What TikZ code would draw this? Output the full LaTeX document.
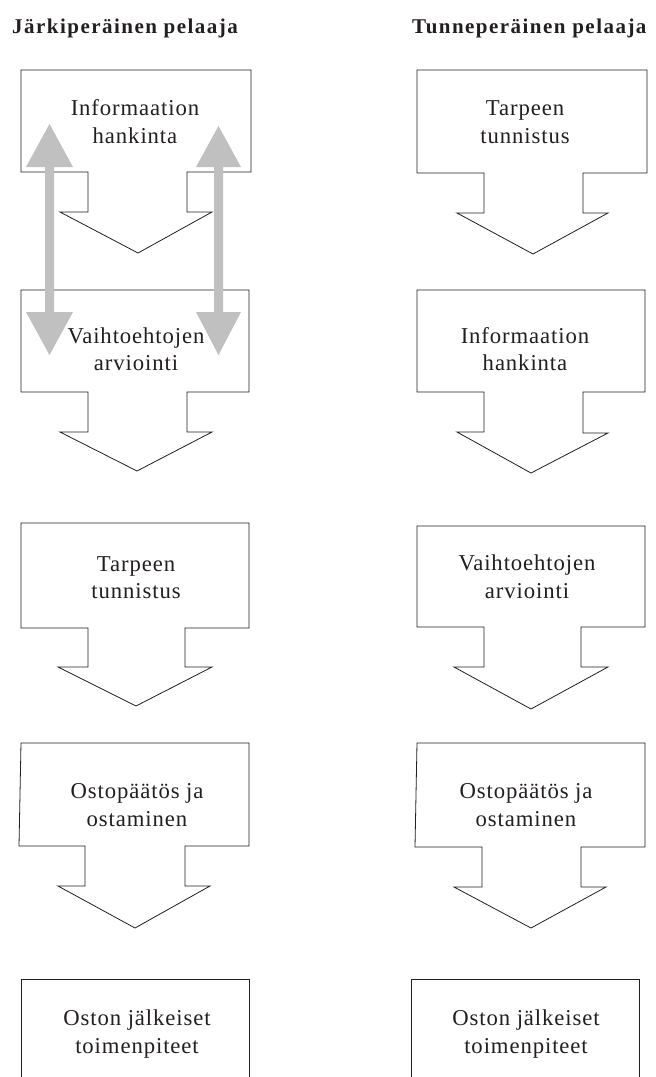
\documentclass[tikz,border=0pt]{standalone}
\usepackage{fontspec}
\newfontfamily\bodyfont[LetterSpace=4]{Liberation Serif}
\newfontfamily\titlefont[LetterSpace=7]{Liberation Serif}
\definecolor{ink}{HTML}{231F20}
\definecolor{arrowgray}{HTML}{C0C0C0}
\begin{document}
\begin{tikzpicture}[x=1pt,y=-1pt,
  blockline/.style={draw=ink,line width=0.8pt,line join=miter},
  txt/.style={anchor=base,inner sep=0pt,text=ink,font=\bodyfont\fontsize{22.7}{28}\selectfont},
  ttl/.style={anchor=base west,inner sep=0pt,text=ink,font=\titlefont\bfseries\fontsize{21}{24}\selectfont},
  grayarrow/.style={fill=arrowgray,draw=none}]
\useasboundingbox (0,0) rectangle (656,1077);
\fill[white] (0,0) rectangle (656,1077);

% titles
\node[ttl] (t1) at (12,33) {Järkiperäinen pelaaja};
\node[ttl] (t2) at (412,33) {Tunneperäinen pelaaja};

% left column block arrows
\draw[blockline] (21,70)--(251,70)--(251,172)--(187,172)--(187,212)--(212,212)--(138,253)--(60,212)--(88,212)--(88,172)--(21,172)--cycle;
\draw[blockline] (21,290)--(249,290)--(249,392)--(187,392)--(187,432)--(212,432)--(137,471)--(60,432)--(88,432)--(88,392)--(21,392)--cycle;
\draw[blockline] (21,523)--(249,523)--(249,628)--(185,628)--(185,667)--(212,667)--(136,706)--(58,667)--(88,667)--(88,628)--(21,628)--cycle;
\draw[blockline] (21,743)--(249,743)--(249,846)--(185,846)--(185,886)--(210,886)--(135,928)--(58,886)--(85,886)--(85,846)--(19,846)--cycle;
\draw[blockline] (21,1080)--(21,979)--(249,979)--(249,1080);

% right column block arrows
\draw[blockline] (417,70)--(647,70)--(647,173)--(583,173)--(583,213)--(608,213)--(533,254)--(457,213)--(484,213)--(484,173)--(417,173)--cycle;
\draw[blockline] (417,290)--(645,290)--(645,392)--(583,392)--(583,433)--(608,433)--(531,473)--(457,432)--(484,432)--(484,392)--(417,392)--cycle;
\draw[blockline] (417,526)--(645,526)--(645,627)--(581,627)--(581,667)--(608,667)--(531,709)--(454,667)--(484,667)--(484,627)--(417,627)--cycle;
\draw[blockline] (417,743)--(645,743)--(645,847)--(581,847)--(581,887)--(606,887)--(531,928)--(454,887)--(482,887)--(482,847)--(415,847)--cycle;
\draw[blockline] (411,1080)--(411,979)--(639,979)--(639,1080);

% gray double arrows
\coordinate (ga) at (49.5,124);
\coordinate (gb) at (49.5,355);
\coordinate (ha) at (218.5,126);
\coordinate (hb) at (218.5,355);
\fill[grayarrow] (ga)--++(23.5,43)--++(-19,0)--++(0,145)--++(19,0)--(gb)--++(-23.5,-43)--++(19,0)--++(0,-145)--++(-19,0)--cycle;
\fill[grayarrow] (ha)--++(22.5,41)--++(-18,0)--++(0,145)--++(18,0)--(hb)--++(-22.5,-43)--++(18,0)--++(0,-145)--++(-18,0)--cycle;

% left texts
\node[txt] (l1a) at (135,115) {Informaation};
\node[txt] (l1b) at (135,143) {hankinta};
\node[txt] (l2a) at (136,343) {Vaihtoehtojen};
\node[txt] (l2b) at (136,370) {arviointi};
\node[txt] (l3a) at (136,571) {Tarpeen};
\node[txt] (l3b) at (136,598) {tunnistus};
\node[txt] (l4a) at (137,798) {Ostopäätös ja};
\node[txt] (l4b) at (137,826) {ostaminen};
\node[txt] (l5a) at (137,1025) {Oston jälkeiset};
\node[txt] (l5b) at (137,1053) {toimenpiteet};

% right texts
\node[txt] (r1a) at (525,115) {Tarpeen};
\node[txt] (r1b) at (525,143) {tunnistus};
\node[txt] (r2a) at (525,343) {Informaation};
\node[txt] (r2b) at (525,370) {hankinta};
\node[txt] (r3a) at (527,570) {Vaihtoehtojen};
\node[txt] (r3b) at (527,598) {arviointi};
\node[txt] (r4a) at (526,798) {Ostopäätös ja};
\node[txt] (r4b) at (526,826) {ostaminen};
\node[txt] (r5a) at (526,1025) {Oston jälkeiset};
\node[txt] (r5b) at (526,1053) {toimenpiteet};
\end{tikzpicture}
\end{document}
